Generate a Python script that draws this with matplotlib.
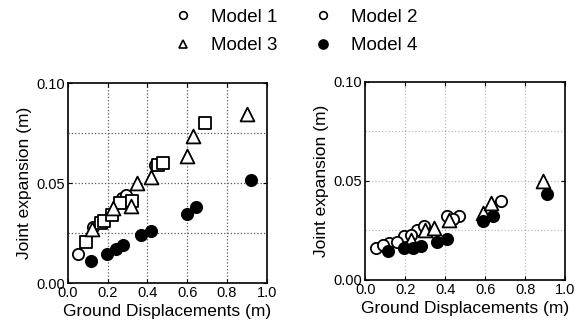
import numpy as np
from matplotlib import pyplot as plt
from matplotlib.lines import Line2D

plt.rcParams['font.family'] = ['Liberation Sans', 'DejaVu Sans']

# ---- left panel data (ground displacement, joint expansion) ----
l_m1_x = [0.05, 0.128, 0.274, 0.294, 0.44]
l_m1_y = [0.0146, 0.028, 0.0427, 0.044, 0.059]
l_m2_x = [0.092, 0.165, 0.18, 0.22, 0.26, 0.32, 0.455, 0.477, 0.69]
l_m2_y = [0.0208, 0.030, 0.031, 0.034, 0.040, 0.041, 0.059, 0.060, 0.080]
l_m3_x = [0.123, 0.229, 0.316, 0.346, 0.42, 0.60, 0.627, 0.90]
l_m3_y = [0.027, 0.0377, 0.0385, 0.050, 0.053, 0.0637, 0.0737, 0.0846]
l_m4_x = [0.116, 0.195, 0.24, 0.277, 0.366, 0.417, 0.598, 0.645, 0.921]
l_m4_y = [0.0109, 0.0147, 0.017, 0.019, 0.024, 0.026, 0.0348, 0.038, 0.0514]

# ---- right panel data ----
r_m1_x = [0.053, 0.12, 0.195, 0.26, 0.41, 0.47]
r_m1_y = [0.016, 0.0185, 0.0219, 0.025, 0.032, 0.032]
r_m2_x = [0.087, 0.16, 0.23, 0.295, 0.44, 0.68]
r_m2_y = [0.0177, 0.0193, 0.0227, 0.027, 0.0307, 0.040]
r_m3_x = [0.23, 0.30, 0.345, 0.42, 0.59, 0.63, 0.89]
r_m3_y = [0.020, 0.025, 0.026, 0.030, 0.034, 0.039, 0.050]
r_m4_x = [0.115, 0.195, 0.237, 0.28, 0.36, 0.41, 0.59, 0.64, 0.91]
r_m4_y = [0.0148, 0.016, 0.016, 0.017, 0.019, 0.0205, 0.0295, 0.032, 0.0434]

legend_labels = ['Model 1', 'Model 2', 'Model 3', 'Model 4']
xticks = [0.0, 0.2, 0.4, 0.6, 0.8, 1.0]
yticks = [0.0, 0.05, 0.10]

fig = plt.figure(figsize=(5.75, 3.3), dpi=100)
ax1 = fig.add_axes([0.118, 0.142, 0.346, 0.606])
ax2 = fig.add_axes([0.635, 0.152, 0.348, 0.600])

ms = 66
lw = 1.3


def style(ax, grid_alpha):
    ax.set_xlim(0, 1.0)
    ax.set_ylim(0, 0.10)
    ax.set_xticks(xticks)
    ax.set_xticklabels(['%.1f' % v for v in xticks])
    ax.set_yticks(yticks)
    ax.set_yticklabels(['%.2f' % v for v in yticks])
    ax.tick_params(direction='in', labelsize=10.5, length=3, pad=2,
                   top=True, right=True)
    for s in ax.spines.values():
        s.set_linewidth(1.2)
    for gx in [0.2, 0.4, 0.6, 0.8]:
        ax.axvline(gx, color='0.35', ls=':', lw=0.9, alpha=grid_alpha, zorder=0)
    for gy in [0.025, 0.05, 0.075]:
        ax.axhline(gy, color='0.35', ls=':', lw=0.9, alpha=grid_alpha, zorder=0)
    ax.set_xlabel('Ground Displacements (m)', fontsize=12.5, labelpad=3)
    ax.set_ylabel('Joint expansion (m)', fontsize=12.5, labelpad=3)


# left panel
ax1.scatter(l_m1_x, l_m1_y, s=ms, marker='o', facecolors='white', edgecolors='black', linewidths=lw, zorder=3)
ax1.scatter(l_m2_x, l_m2_y, s=ms, marker='s', facecolors='white', edgecolors='black', linewidths=lw, zorder=3)
ax1.scatter(l_m3_x, l_m3_y, s=ms * 1.5, marker='^', facecolors='white', edgecolors='black', linewidths=lw, zorder=3)
ax1.scatter(l_m4_x, l_m4_y, s=ms, marker='o', facecolors='black', edgecolors='black', linewidths=lw, zorder=3)
style(ax1, 1.0)

# right panel
ax2.scatter(r_m1_x, r_m1_y, s=ms, marker='o', facecolors='white', edgecolors='black', linewidths=lw, zorder=3)
ax2.scatter(r_m2_x, r_m2_y, s=ms, marker='o', facecolors='white', edgecolors='black', linewidths=lw, zorder=3)
ax2.scatter(r_m3_x, r_m3_y, s=ms * 1.5, marker='^', facecolors='white', edgecolors='black', linewidths=lw, zorder=3)
ax2.scatter(r_m4_x, r_m4_y, s=ms, marker='o', facecolors='black', edgecolors='black', linewidths=lw, zorder=3)
style(ax2, 0.4)

# legend on top
handles = [
    Line2D([], [], ls='none', marker='o', mfc='white', mec='black', ms=5.5, mew=1.2),
    Line2D([], [], ls='none', marker='^', mfc='white', mec='black', ms=6, mew=1.2),
    Line2D([], [], ls='none', marker='o', mfc='white', mec='black', ms=5.5, mew=1.2),
    Line2D([], [], ls='none', marker='o', mfc='black', mec='black', ms=6.5, mew=1.2),
]
labels = [legend_labels[0], legend_labels[2], legend_labels[1], legend_labels[3]]
fig.legend(handles, labels, ncol=2, loc='center', bbox_to_anchor=(0.514, 0.905),
           frameon=False, fontsize=13.5, handletextpad=1.0, columnspacing=1.9,
           labelspacing=0.6, handlelength=1.0)

fig.savefig('out.png', dpi=100)
